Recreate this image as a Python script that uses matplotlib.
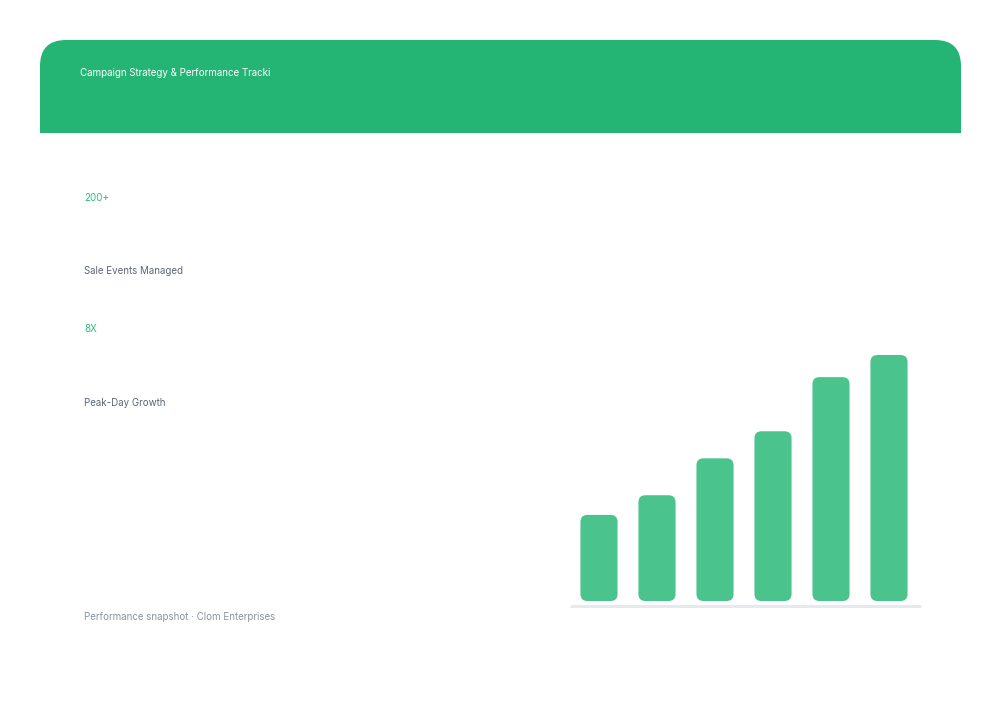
import matplotlib
matplotlib.use('Agg')
import matplotlib.pyplot as plt
from matplotlib.patches import FancyBboxPatch

plt.rcParams['font.family'] = ['Inter', 'DejaVu Sans']

title = 'Campaign Strategy & Performance Tracki'
stat_values = ['200+', '8X']
stat_labels = ['Sale Events Managed', 'Peak-Day Growth']
footer = 'Performance snapshot \u00b7 Clom Enterprises'

periods = ['P1', 'P2', 'P3', 'P4', 'P5', 'P6']
growth = [35, 43, 58, 69, 91, 100]

HEADER = '#24b574'
BAR = '#4ac48c'
ACCENT = '#2dbb78'
LABEL = '#5b6576'
MUTED = '#8a93a0'

W, H = 1000, 720
fig = plt.figure(figsize=(10, 7.2), dpi=100)
fig.patch.set_facecolor('white')

# header band, rounded on top only (square bottom drawn by a second rect)
bg = fig.add_axes([0, 0, 1, 1])
bg.set_xlim(0, W)
bg.set_ylim(H, 0)
bg.axis('off')
bg.add_patch(FancyBboxPatch((40, 40), 921, 93, boxstyle='round,pad=0,rounding_size=26',
                            fc=HEADER, ec='none'))
bg.add_patch(plt.Rectangle((40, 90), 921, 43, fc=HEADER, ec='none'))
bg.text(80, 73, title, color='white', fontsize=7, va='center', ha='left')

stat_y = [198, 329]
label_y = [271, 403]
for v, lab, y1, y2 in zip(stat_values, stat_labels, stat_y, label_y):
    bg.text(84, y1, v, color=ACCENT, fontsize=7, va='center')
    bg.text(84, y2, lab, color=LABEL, fontsize=7, va='center')
bg.text(84, 617, footer, color=MUTED, fontsize=7, va='center')

# bar chart
ax = fig.add_axes([570 / W, 1 - 606 / H, 351 / W, 266 / H])
ax.axis('off')
x = list(range(len(periods)))
ax.set_xlim(-0.5, len(periods) - 0.5 + 3 / 58)
ax.set_ylim(-2.03, 106.1)
ax.axhline(-2.03, color='#e6eaee', lw=2.2, zorder=1, clip_on=False,
           solid_capstyle='butt')

bw = 0.64
px_x = 351 / (ax.get_xlim()[1] - ax.get_xlim()[0])
px_y = 266 / (ax.get_ylim()[1] - ax.get_ylim()[0])
r = 7 / px_x
for xi, v in zip(x, growth):
    ax.add_patch(FancyBboxPatch((xi - bw / 2, 0), bw, v,
                                boxstyle='round,pad=0,rounding_size=%f' % r,
                                mutation_aspect=px_x / px_y,
                                fc=BAR, ec='none', zorder=2))

fig.savefig('out.png', dpi=100, facecolor='white')
